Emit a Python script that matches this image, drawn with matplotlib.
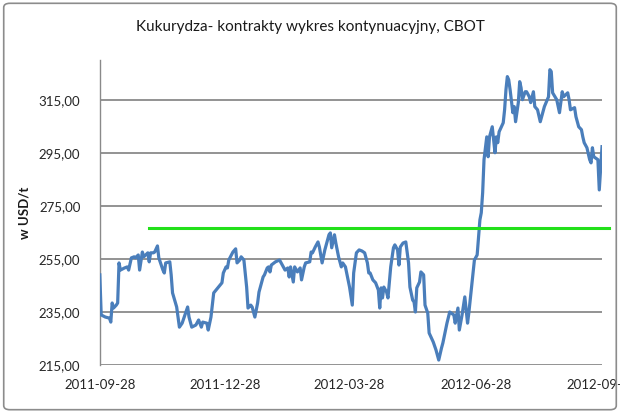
import matplotlib
matplotlib.use("Agg")
import matplotlib.pyplot as plt
import matplotlib.dates as mdates
from matplotlib.patches import FancyBboxPatch
import pandas as pd

title = "Kukurydza- kontrakty wykres kontynuacyjny, CBOT"
ylabel = "w USD/t"

dates = [
    "2011-09-28", "2011-09-29", "2011-10-02", "2011-10-05", "2011-10-06", "2011-10-07",
    "2011-10-08", "2011-10-10", "2011-10-11", "2011-10-12", "2011-10-13", "2011-10-16",
    "2011-10-18", "2011-10-19", "2011-10-21", "2011-10-23", "2011-10-24", "2011-10-26",
    "2011-10-27", "2011-10-29", "2011-10-30", "2011-11-02", "2011-11-03", "2011-11-04",
    "2011-11-06", "2011-11-07", "2011-11-09", "2011-11-10", "2011-11-13", "2011-11-14",
    "2011-11-15", "2011-11-18", "2011-11-19", "2011-11-20", "2011-11-23", "2011-11-25",
    "2011-11-27", "2011-12-01", "2011-12-02", "2011-12-04", "2011-12-07", "2011-12-09",
    "2011-12-11", "2011-12-12", "2011-12-15", "2011-12-16", "2011-12-18", "2011-12-20",
    "2011-12-23", "2011-12-26", "2011-12-27", "2011-12-29", "2011-12-30", "2011-12-31",
    "2012-01-03", "2012-01-05", "2012-01-06", "2012-01-08", "2012-01-09", "2012-01-11",
    "2012-01-13", "2012-01-14", "2012-01-16", "2012-01-17", "2012-01-19", "2012-01-21",
    "2012-01-22", "2012-01-25", "2012-01-26", "2012-01-28", "2012-01-29", "2012-01-30",
    "2012-01-31", "2012-02-03", "2012-02-06", "2012-02-08", "2012-02-10", "2012-02-12",
    "2012-02-13", "2012-02-14", "2012-02-16", "2012-02-17", "2012-02-19", "2012-02-21",
    "2012-02-22", "2012-02-24", "2012-02-25", "2012-02-28", "2012-02-29", "2012-03-01",
    "2012-03-03", "2012-03-05", "2012-03-06", "2012-03-08", "2012-03-10", "2012-03-11",
    "2012-03-13", "2012-03-14", "2012-03-15", "2012-03-17", "2012-03-18", "2012-03-20",
    "2012-03-22", "2012-03-23", "2012-03-25", "2012-03-28", "2012-03-30", "2012-03-31",
    "2012-04-02", "2012-04-04", "2012-04-06", "2012-04-08", "2012-04-10", "2012-04-11",
    "2012-04-12", "2012-04-14", "2012-04-16", "2012-04-18", "2012-04-19", "2012-04-20",
    "2012-04-21", "2012-04-22", "2012-04-24", "2012-04-25", "2012-04-27", "2012-04-29",
    "2012-04-30", "2012-05-02", "2012-05-03", "2012-05-04", "2012-05-06", "2012-05-08",
    "2012-05-10", "2012-05-11", "2012-05-13", "2012-05-14", "2012-05-15", "2012-05-16",
    "2012-05-18", "2012-05-19", "2012-05-21", "2012-05-22", "2012-05-24", "2012-05-25",
    "2012-05-28", "2012-05-30", "2012-06-01", "2012-06-03", "2012-06-04", "2012-06-07",
    "2012-06-09", "2012-06-12", "2012-06-13", "2012-06-15", "2012-06-16", "2012-06-18",
    "2012-06-20", "2012-06-22", "2012-06-23", "2012-06-27", "2012-06-29", "2012-07-01",
    "2012-07-02", "2012-07-03", "2012-07-04", "2012-07-06", "2012-07-07", "2012-07-08",
    "2012-07-10", "2012-07-11", "2012-07-12", "2012-07-13", "2012-07-14", "2012-07-15",
    "2012-07-18", "2012-07-19", "2012-07-20", "2012-07-21", "2012-07-22", "2012-07-23",
    "2012-07-25", "2012-07-26", "2012-07-27", "2012-07-29", "2012-07-30", "2012-07-31",
    "2012-08-01", "2012-08-03", "2012-08-04", "2012-08-06", "2012-08-07", "2012-08-09",
    "2012-08-10", "2012-08-12", "2012-08-14", "2012-08-17", "2012-08-20", "2012-08-21",
    "2012-08-22", "2012-08-23", "2012-08-26", "2012-08-28", "2012-08-30", "2012-08-31",
    "2012-09-03", "2012-09-04", "2012-09-05", "2012-09-08", "2012-09-09", "2012-09-11",
    "2012-09-13", "2012-09-14", "2012-09-15", "2012-09-17", "2012-09-19", "2012-09-20",
    "2012-09-21", "2012-09-22", "2012-09-25", "2012-09-26", "2012-09-28",
]

prices = [
    249.0, 233.9, 233.1, 232.7, 231.2, 238.4,
    236.5, 237.6, 238.4, 253.5, 250.8, 251.6,
    252.0, 250.8, 255.4, 255.8, 255.4, 256.5,
    250.8, 257.6, 255.8, 257.3, 253.9, 257.3,
    257.3, 257.6, 259.9, 255.4, 250.8, 249.7,
    253.5, 253.9, 249.0, 242.2, 236.9, 229.3,
    230.8, 236.9, 233.1, 229.3, 230.1, 232.0,
    229.3, 231.2, 230.8, 228.2, 233.1, 242.2,
    244.1, 246.0, 249.7, 252.0, 251.6, 254.6,
    257.6, 258.8, 253.5, 254.6, 255.8, 254.6,
    244.4, 236.5, 237.6, 236.9, 233.1, 238.4,
    242.5, 248.2, 249.0, 251.6, 252.0, 250.1,
    252.7, 253.9, 254.6, 252.7, 250.8, 251.6,
    248.2, 252.0, 246.3, 252.0, 250.1, 251.6,
    247.1, 252.0, 253.5, 253.9, 257.6, 257.3,
    259.5, 261.4, 259.5, 253.5, 258.4, 260.3,
    264.1, 264.8, 259.2, 264.1, 261.0, 255.8,
    252.0, 253.5, 252.0, 244.4, 237.6, 249.7,
    257.3, 258.4, 258.0, 257.3, 253.5, 249.7,
    249.7, 247.1, 246.0, 243.3, 236.5, 244.1,
    240.3, 244.4, 242.5, 240.3, 252.0, 259.2,
    260.3, 258.4, 252.7, 259.5, 261.0, 261.4,
    253.5, 244.4, 239.5, 238.8, 235.0, 244.1,
    246.3, 250.1, 249.0, 237.6, 234.6, 227.1,
    223.7, 220.7, 216.9, 221.4, 223.3, 230.8,
    235.0, 233.9, 230.8, 236.5, 228.2, 233.9,
    240.7, 230.8, 235.0, 254.6, 256.5, 269.7,
    272.4, 279.9, 292.4, 301.0, 293.5, 301.0,
    304.8, 299.9, 295.0, 301.0, 298.8, 302.9,
    306.3, 311.2, 318.8, 323.7, 322.5, 318.8,
    310.1, 312.4, 306.7, 313.9, 321.8, 319.5,
    315.0, 318.0, 318.0, 316.1, 313.9, 318.0,
    312.4, 311.2, 306.7, 312.4, 316.1, 326.3,
    325.6, 317.6, 315.0, 310.1, 318.0, 316.1,
    317.6, 315.0, 311.2, 312.0, 308.6, 304.8,
    303.7, 301.0, 298.8, 296.9, 292.4, 291.2,
    296.9, 293.5, 292.4, 281.0, 297.3,
]

level_value = 266.5
level_start = "2011-11-03"
level_end = "2012-10-03"

tick_dates = ["2011-09-28", "2011-12-28", "2012-03-28", "2012-06-28", "2012-09-28"]
y_ticks = [215, 235, 255, 275, 295, 315]

plt.rcParams['font.family'] = ['Lato', 'DejaVu Sans']

fig = plt.figure(figsize=(6.2, 4.13), dpi=100)
fig.patch.set_facecolor('white')
border = FancyBboxPatch((0.006, 0.008), 0.988, 0.984, boxstyle="round,pad=0,rounding_size=0.01",
                        transform=fig.transFigure, facecolor='none', edgecolor='#8c8c8c',
                        linewidth=1.2, zorder=0)
fig.patches.append(border)

ax = fig.add_axes([0.161, 0.116, 0.81, 0.739])

x = pd.to_datetime(dates)
ax.plot(x, prices, color='#4A7EBB', linewidth=2.3, solid_joinstyle='round', zorder=3)
ax.plot(pd.to_datetime([level_start, level_end]), [level_value, level_value],
        color='#22E01A', linewidth=2.2, zorder=4, clip_on=False)

ax.set_xlim(pd.Timestamp("2011-09-28"), pd.Timestamp("2012-09-28"))
ax.set_ylim(215, 330)
ax.set_yticks(y_ticks)
ax.set_yticklabels([f"{v:.2f}".replace('.', ',') for v in y_ticks])
td = pd.to_datetime(tick_dates)
ax.set_xticks(td)
ax.set_xticklabels([d.strftime('%Y-%m-%d') for d in td])

ax.grid(axis='y', color='#8a8a8a', linewidth=1.3)
ax.set_axisbelow(True)
for s in ['top', 'right', 'bottom']:
    ax.spines[s].set_visible(False)
ax.spines['left'].set_color('#8a8a8a')
ax.spines['left'].set_linewidth(1.0)
ax.tick_params(axis='both', length=0, labelsize=9.5, colors='#262626')
ax.tick_params(axis='y', pad=14)
ax.tick_params(axis='x', pad=10)

ax.set_ylabel(ylabel, fontsize=9.5, fontweight='bold', color='#1a1a1a', labelpad=6)
fig.text(0.5, 0.935, title, ha='center', va='center', fontsize=11, color='#1a1a1a')

fig.savefig("out.png", dpi=100)
